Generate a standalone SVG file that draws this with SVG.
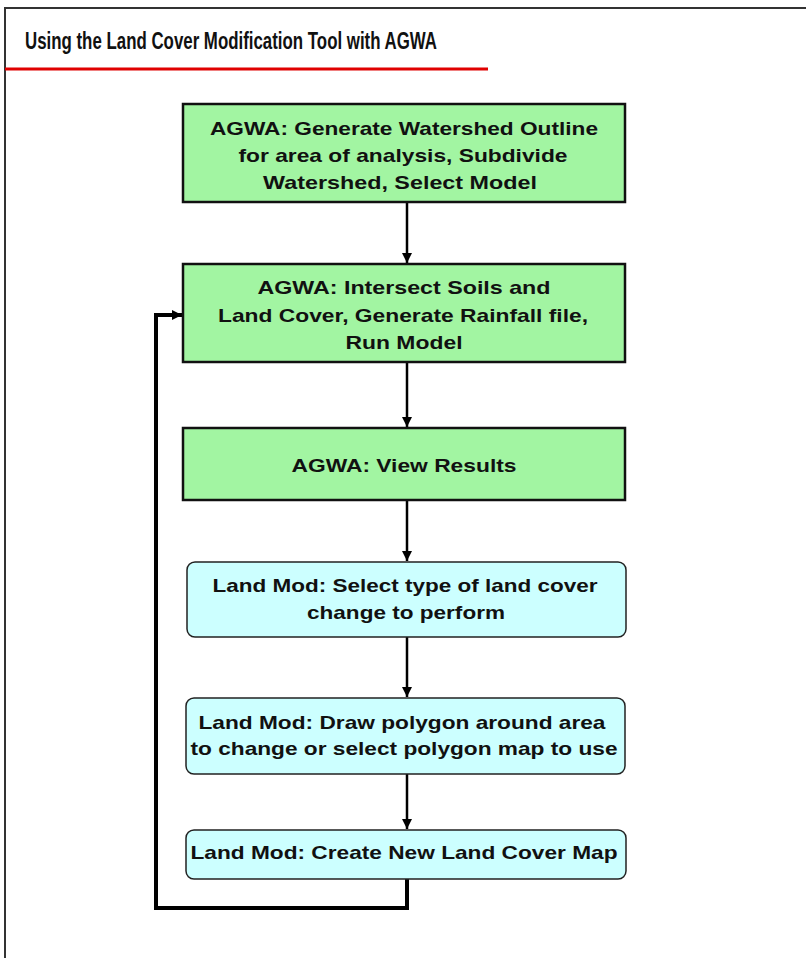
<svg xmlns="http://www.w3.org/2000/svg" width="806" height="958" viewBox="0 0 806 958">
<defs>
<style>
.t{font-family:"Liberation Sans",Arial,sans-serif;font-weight:bold;font-size:18.5px;fill:#111;text-anchor:middle}
.g{fill:#a2f5a2;stroke:#111;stroke-width:2.5}
.c{fill:#ccffff;stroke:#222;stroke-width:1.5}
.e{fill:none;stroke:#000;stroke-width:2.5}
.loop{fill:none;stroke:#000;stroke-width:4}
</style>
<marker id="ah" viewBox="0 0 10 10" refX="10" refY="5" markerWidth="4" markerHeight="4" orient="auto" markerUnits="strokeWidth">
<path d="M0,0 L10,5 L0,10 Z" fill="#000"/>
</marker>
<marker id="ah2" viewBox="0 0 10 10" refX="10" refY="5" markerWidth="2.6" markerHeight="2.6" orient="auto" markerUnits="strokeWidth">
<path d="M0,0 L10,5 L0,10 Z" fill="#000"/>
</marker>
</defs>
<rect x="0" y="0" width="806" height="958" fill="#fff"/>
<g id="frame">
<path d="M5,958 L5,8 L806,8" fill="none" stroke="#333" stroke-width="2"/>
</g>
<g id="title">
<text x="25" y="49" font-family="'Liberation Sans',Arial,sans-serif" font-weight="bold" font-size="23" fill="#111" textLength="412" lengthAdjust="spacingAndGlyphs">Using the Land Cover Modification Tool with AGWA</text>
<line x1="5" y1="69" x2="488" y2="69" stroke="#e00000" stroke-width="3"/>
</g>
<g id="connectors">
<line class="e" x1="407" y1="202" x2="407" y2="263" marker-end="url(#ah)"/>
<line class="e" x1="407" y1="362" x2="407" y2="427" marker-end="url(#ah)"/>
<line class="e" x1="407" y1="500" x2="407" y2="561" marker-end="url(#ah)"/>
<line class="e" x1="407" y1="637" x2="407" y2="697" marker-end="url(#ah)"/>
<line class="e" x1="407" y1="774" x2="407" y2="829" marker-end="url(#ah)"/>
<path class="loop" d="M407,879 L407,908 L156,908 L156,315 L182,315" marker-end="url(#ah2)"/>
</g>
<g id="n1">
<rect class="g" x="183" y="104" width="442" height="98"/>
<text class="t" x="404" y="135" textLength="388" lengthAdjust="spacingAndGlyphs">AGWA: Generate Watershed Outline</text>
<text class="t" x="403" y="162" textLength="329" lengthAdjust="spacingAndGlyphs">for area of analysis, Subdivide</text>
<text class="t" x="400" y="189" textLength="274" lengthAdjust="spacingAndGlyphs">Watershed, Select Model</text>
</g>
<g id="n2">
<rect class="g" x="183" y="264" width="442" height="98"/>
<text class="t" x="404" y="294" textLength="293" lengthAdjust="spacingAndGlyphs">AGWA:  Intersect Soils and</text>
<text class="t" x="403" y="322" textLength="370" lengthAdjust="spacingAndGlyphs">Land Cover, Generate Rainfall file,</text>
<text class="t" x="404" y="349" textLength="117" lengthAdjust="spacingAndGlyphs">Run Model</text>
</g>
<g id="n3">
<rect class="g" x="183" y="428" width="442" height="72"/>
<text class="t" x="404" y="472" textLength="225" lengthAdjust="spacingAndGlyphs">AGWA: View Results</text>
</g>
<g id="n4">
<rect class="c" x="187" y="562" width="439" height="75" rx="8"/>
<text class="t" x="405" y="592" textLength="385" lengthAdjust="spacingAndGlyphs">Land Mod: Select type of land cover</text>
<text class="t" x="406" y="619" textLength="198" lengthAdjust="spacingAndGlyphs">change to perform</text>
</g>
<g id="n5">
<rect class="c" x="186" y="698" width="439" height="76" rx="8"/>
<text class="t" x="402" y="729" textLength="407" lengthAdjust="spacingAndGlyphs">Land Mod: Draw polygon around area</text>
<text class="t" x="404" y="755" textLength="427" lengthAdjust="spacingAndGlyphs">to change or select polygon map to use</text>
</g>
<g id="n6">
<rect class="c" x="186" y="830" width="440" height="49" rx="8"/>
<text class="t" x="404" y="859" textLength="427" lengthAdjust="spacingAndGlyphs">Land Mod: Create New Land Cover Map</text>
</g>
</svg>
